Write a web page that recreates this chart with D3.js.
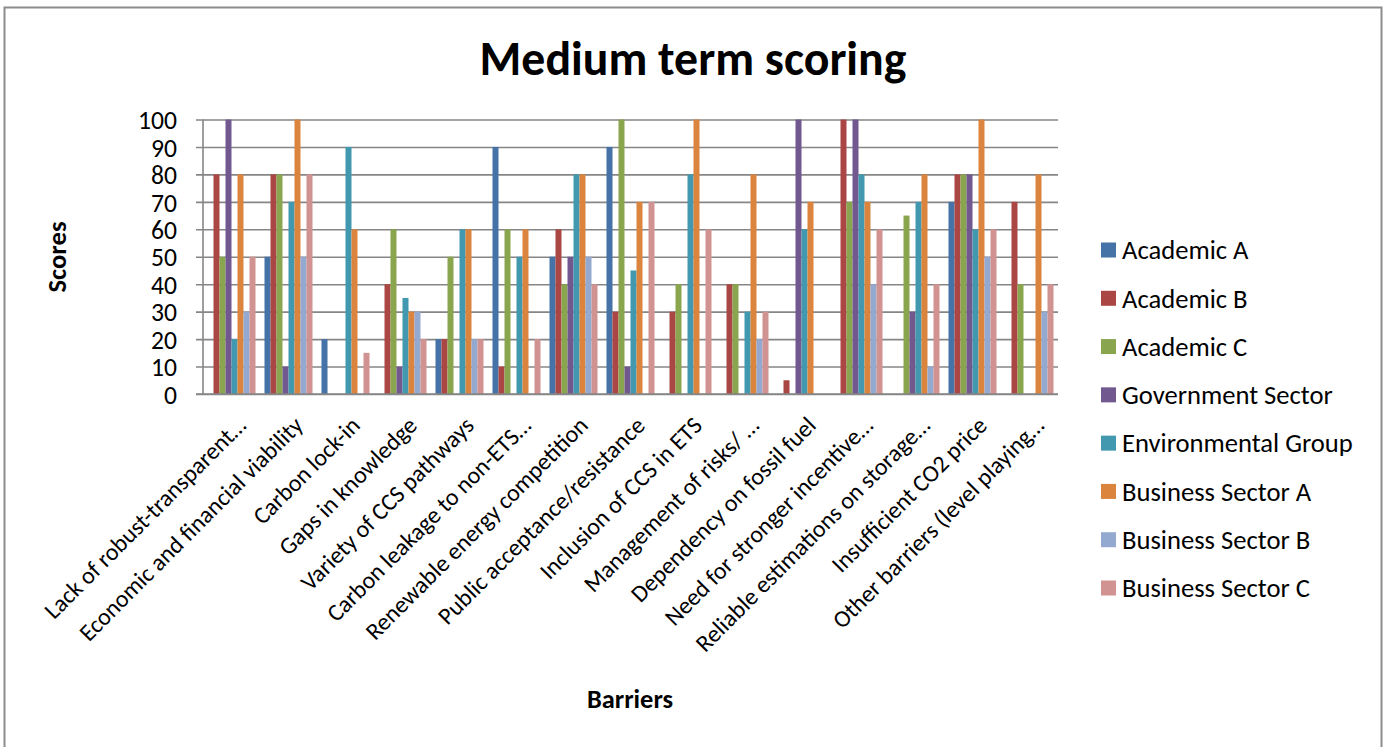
<!DOCTYPE html>
<html>
<head>
<meta charset="utf-8">
<script src="https://cdn.jsdelivr.net/npm/d3@7"></script>
<style>
  html, body { margin: 0; padding: 0; background: #fff; }
  svg { display: block; font-family: Carlito, Calibri, Lato, "Open Sans", sans-serif; }
</style>
</head>
<body>
<svg id="chart" width="1390" height="747"></svg>
<script>
// Barrier categories (x axis)
const categories = [
  "Lack of robust-transparent\u2026",
  "Economic and financial viability",
  "Carbon lock-in",
  "Gaps in knowledge",
  "Variety of CCS pathways",
  "Carbon leakage to non-ETS\u2026",
  "Renewable energy competition",
  "Public acceptance/resistance",
  "Inclusion of CCS in ETS",
  "Management of risks/ \u2026",
  "Dependency on fossil fuel",
  "Need for stronger incentive\u2026",
  "Reliable estimations on storage\u2026",
  "Insufficient CO2 price",
  "Other barriers (level playing\u2026"
];

// Stakeholder groups (series)
const seriesNames = [
  "Academic A", "Academic B", "Academic C", "Government Sector",
  "Environmental Group", "Business Sector A", "Business Sector B", "Business Sector C"
];

// Scores per stakeholder, one value per barrier
const academicA      = [0, 50, 20, 0, 20, 90, 50, 90, 0, 0, 0, 0, 0, 70, 0];
const academicB      = [80, 80, 0, 40, 20, 10, 60, 30, 30, 40, 5, 100, 0, 80, 70];
const academicC      = [50, 80, 0, 60, 50, 60, 40, 100, 40, 40, 0, 70, 65, 80, 40];
const governmentSec  = [100, 10, 0, 10, 0, 0, 50, 10, 0, 0, 100, 100, 30, 80, 0];
const environmental  = [20, 70, 90, 35, 60, 50, 80, 45, 80, 30, 60, 80, 70, 60, 0];
const businessA      = [80, 100, 60, 30, 60, 60, 80, 70, 100, 80, 70, 70, 80, 100, 80];
const businessB      = [30, 50, 0, 30, 20, 0, 50, 0, 0, 20, 0, 40, 10, 50, 30];
const businessC      = [50, 80, 15, 20, 20, 20, 40, 70, 60, 30, 0, 60, 40, 60, 40];

const seriesValues = [academicA, academicB, academicC, governmentSec,
                      environmental, businessA, businessB, businessC];

const colors = ["#4572A7", "#AA4643", "#89A54E", "#71588F",
                "#4198AF", "#DB843D", "#93A9CF", "#D19392"];

const yTicks = [0, 10, 20, 30, 40, 50, 60, 70, 80, 90, 100];

const svg = d3.select("#chart");

// outer chart frame
svg.append("rect")
  .attr("x", 4.5).attr("y", 7.5)
  .attr("width", 1377).attr("height", 760)
  .attr("fill", "#fff")
  .attr("stroke", "#8c8c8c").attr("stroke-width", 2);

const plot = { left: 203, right: 1058, top: 119.5, bottom: 394 };

const x0 = d3.scaleBand().domain(categories)
  .range([plot.left, plot.right]).paddingInner(0).paddingOuter(0);
const x1 = d3.scaleBand().domain(seriesNames)
  .range([0, x0.bandwidth()]).paddingInner(0).paddingOuter(0.75);
const y = d3.scaleLinear().domain([0, 100]).range([plot.bottom, plot.top]);

// fit a text's font size so that its rendered width equals a target width
function fitSize(sel, target) {
  const base = +sel.attr("font-size");
  const w = sel.node().getComputedTextLength();
  const s = base * target / w;
  sel.attr("font-size", s);
  return s;
}

// gridlines + y axis
const yAxis = d3.axisLeft(y).tickValues(yTicks)
  .tickSize(-(plot.right - plot.left)).tickPadding(0).tickFormat(d3.format("d"));
const gy = svg.append("g").attr("transform", `translate(${plot.left},0)`).call(yAxis);
gy.select(".domain").remove();
gy.selectAll(".tick line")
  .attr("x1", -7)
  .attr("stroke", "#868686").attr("stroke-width", 1.6);
const tickTexts = gy.selectAll(".tick text")
  .attr("x", -26).attr("fill", "#000").attr("font-size", 24)
  .attr("font-family", "Carlito, Calibri, Lato, sans-serif")
  .attr("dy", "0.36em");
const probe = gy.selectAll(".tick text").filter(d => d === 100);
const tickSize = fitSize(probe, 39);
tickTexts.attr("font-size", tickSize);

// y axis line
svg.append("line")
  .attr("x1", plot.left).attr("x2", plot.left)
  .attr("y1", plot.top).attr("y2", plot.bottom)
  .attr("stroke", "#868686").attr("stroke-width", 1.6);

// bars
const groups = svg.append("g").selectAll("g")
  .data(categories)
  .join("g")
  .attr("transform", d => `translate(${x0(d)},0)`);

groups.selectAll("rect")
  .data((c, ci) => seriesNames.map((s, si) => ({ s, si, v: seriesValues[si][ci] })))
  .join("rect")
  .attr("x", d => x1(d.s))
  .attr("width", x1.bandwidth())
  .attr("y", d => y(d.v))
  .attr("height", d => y(0) - y(d.v))
  .attr("fill", d => colors[d.si]);

// x axis baseline
svg.append("line")
  .attr("x1", plot.left - 7).attr("x2", plot.right)
  .attr("y1", plot.bottom).attr("y2", plot.bottom)
  .attr("stroke", "#868686").attr("stroke-width", 1.6);

// category labels, rotated
const catLabels = svg.append("g").selectAll("text")
  .data(categories)
  .join("text")
  .attr("transform", d => `translate(${x0(d) + x0.bandwidth() / 2 + 10},${plot.bottom + 27}) rotate(-45)`)
  .attr("text-anchor", "end")
  .attr("dy", "0.35em")
  .attr("font-size", 20)
  .attr("fill", "#000")
  .text(d => d);
const catSize = fitSize(catLabels.filter((d, i) => i === 1), 305);
catLabels.attr("font-size", catSize);

// title
const title = svg.append("text")
  .attr("x", 693).attr("y", 75)
  .attr("text-anchor", "middle")
  .attr("font-weight", "bold")
  .attr("font-size", 44)
  .attr("fill", "#000")
  .text("Medium term scoring");
fitSize(title, 427);

// axis titles
const yTitle = svg.append("text")
  .attr("transform", "translate(66,257) rotate(-90)")
  .attr("text-anchor", "middle")
  .attr("font-weight", "bold")
  .attr("font-size", 20)
  .attr("fill", "#000")
  .text("Scores");
fitSize(yTitle, 71);

const xTitle = svg.append("text")
  .attr("x", 630).attr("y", 708)
  .attr("text-anchor", "middle")
  .attr("font-weight", "bold")
  .attr("font-size", 20)
  .attr("fill", "#000")
  .text("Barriers");
fitSize(xTitle, 86);

// legend
const legendRowY = d3.scaleLinear().domain([0, 7]).range([250, 588]);
const legend = svg.append("g").selectAll("g")
  .data(seriesNames)
  .join("g")
  .attr("transform", (d, i) => `translate(1101,${legendRowY(i)})`);
legend.append("rect")
  .attr("x", 0).attr("y", -7.5)
  .attr("width", 15).attr("height", 15)
  .attr("fill", (d, i) => colors[i]);
const legendTexts = legend.append("text")
  .attr("x", 21).attr("dy", "0.35em")
  .attr("font-size", 22)
  .attr("fill", "#000")
  .text(d => d);
const legSize = fitSize(legendTexts.filter(d => d === "Environmental Group"), 231);
legendTexts.attr("font-size", legSize);
</script>
</body>
</html>
